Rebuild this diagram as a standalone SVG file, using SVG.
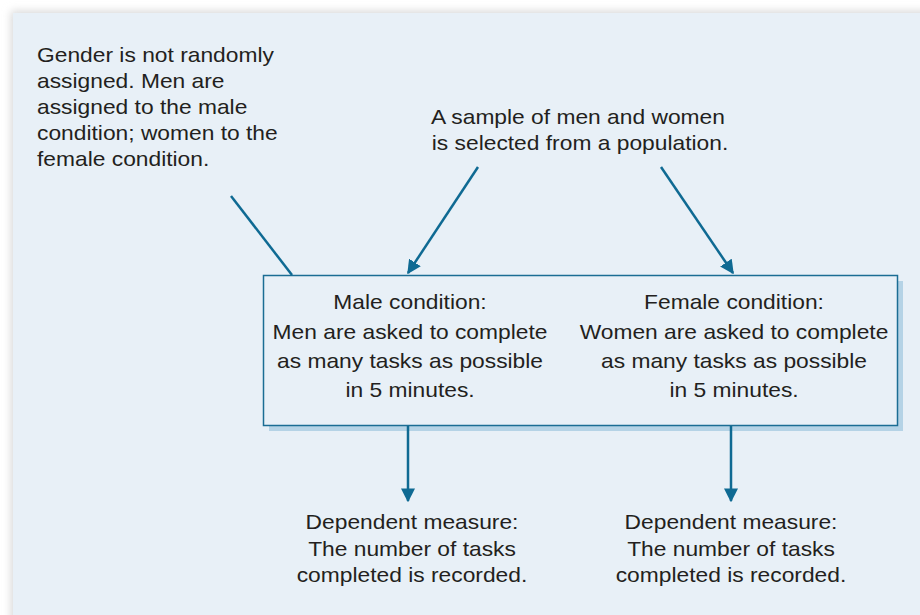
<svg xmlns="http://www.w3.org/2000/svg" width="920" height="615" viewBox="0 0 920 615">
<defs>
<style>
text{font-family:"Liberation Sans",Arial,sans-serif;font-size:20px;fill:#231f20}
.c{text-anchor:middle}
.ln{stroke:#0f6a93;stroke-width:2.5;fill:none}
</style>
<marker id="ah2" viewBox="0 0 10 10" refX="9" refY="5" markerWidth="14" markerHeight="14" markerUnits="userSpaceOnUse" orient="auto"><path d="M0,0 L10,5 L0,10 z" fill="#0f6a93"/></marker>
<filter id="sh" x="-5%" y="-5%" width="110%" height="110%"><feGaussianBlur stdDeviation="4"/></filter>
</defs>
<rect width="920" height="615" fill="#ffffff"/>
<rect x="11" y="11" width="920" height="615" fill="#d8d8d8" filter="url(#sh)"/>
<rect x="13" y="13" width="907" height="602" fill="#e8f0f7"/>
<g id="note-gender" transform="translate(37,0) scale(1.14,1)">
<text x="0" y="62">Gender is not randomly</text>
<text x="0" y="88">assigned. Men are</text>
<text x="0" y="114">assigned to the male</text>
<text x="0" y="140">condition; women to the</text>
<text x="0" y="166">female condition.</text>
</g>
<g id="note-sample">
<text class="c" transform="translate(578,0) scale(1.14,1)" x="0" y="124">A sample of men and women</text>
<text class="c" transform="translate(580,0) scale(1.14,1)" x="0" y="150">is selected from a population.</text>
</g>
<g id="conditions">
<rect x="269" y="281" width="634" height="150" fill="#b5d3e6"/>
<rect x="263.5" y="275.5" width="634" height="150" fill="#e8f0f7" stroke="#1b6d94" stroke-width="1.5"/>
<g id="male" transform="translate(410,0) scale(1.14,1)">
<text class="c" x="0" y="309">Male condition:</text>
<text class="c" x="0" y="339">Men are asked to complete</text>
<text class="c" x="0" y="368">as many tasks as possible</text>
<text class="c" x="0" y="397">in 5 minutes.</text>
</g>
<g id="female" transform="translate(734,0) scale(1.14,1)">
<text class="c" x="0" y="309">Female condition:</text>
<text class="c" x="0" y="339">Women are asked to complete</text>
<text class="c" x="0" y="368">as many tasks as possible</text>
<text class="c" x="0" y="397">in 5 minutes.</text>
</g>
</g>
<g id="dv-male" transform="translate(412,0) scale(1.14,1)">
<text class="c" x="0" y="529">Dependent measure:</text>
<text class="c" x="0" y="556">The number of tasks</text>
<text class="c" x="0" y="582">completed is recorded.</text>
</g>
<g id="dv-female" transform="translate(731,0) scale(1.14,1)">
<text class="c" x="0" y="529">Dependent measure:</text>
<text class="c" x="0" y="556">The number of tasks</text>
<text class="c" x="0" y="582">completed is recorded.</text>
</g>
<g id="connectors">
<line class="ln" x1="231" y1="196" x2="292" y2="275"/>
<line class="ln" x1="478" y1="167" x2="408" y2="273" marker-end="url(#ah2)"/>
<line class="ln" x1="661" y1="167" x2="733" y2="273" marker-end="url(#ah2)"/>
<line class="ln" x1="408" y1="426" x2="408" y2="501" marker-end="url(#ah2)"/>
<line class="ln" x1="731" y1="426" x2="731" y2="501" marker-end="url(#ah2)"/>
</g>
</svg>
